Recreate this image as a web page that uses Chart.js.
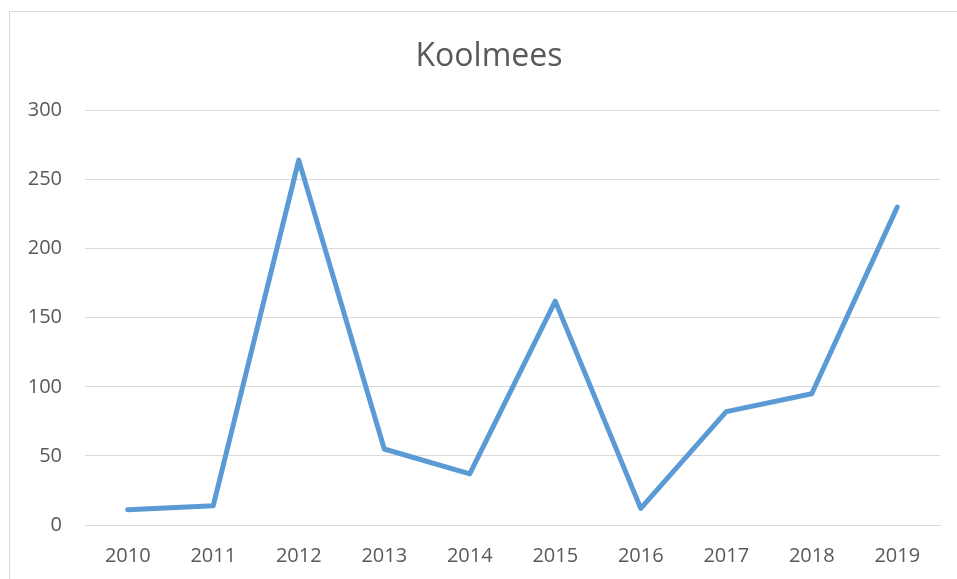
<!DOCTYPE html>
<html>
<head>
<meta charset="utf-8">
<script src="https://cdn.jsdelivr.net/npm/chart.js@4"></script>
<style>
  html, body { margin: 0; padding: 0; background: #fff; }
  #wrap { position: relative; width: 957px; height: 579px; overflow: hidden; }
  #frame { position: absolute; left: 9px; top: 11px; width: 1000px; height: 1000px; border: 1px solid #d9d9d9; }
  #chart { position: absolute; left: 0; top: 0; }
</style>
</head>
<body>
<div id="wrap">
  <div id="frame"></div>
  <canvas id="chart" width="957" height="579"></canvas>
</div>
<script>
const years = ["2010", "2011", "2012", "2013", "2014", "2015", "2016", "2017", "2018", "2019"];
const koolmees = [11, 14, 264, 55, 37, 162, 12, 82, 95, 230];
const yTicks = [0, 50, 100, 150, 200, 250, 300];

const chartCanvas = document.getElementById("chart");
const textColor = "#595959";
const gridColor = "#d9d9d9";

// nudge the title box so the title sits a bit right of the canvas centre, like the reference
const titleOffset = {
  id: "titleOffset",
  afterLayout(chart) {
    if (chart.titleBlock) {
      chart.titleBlock.left += 38;
    }
  },
};

new Chart(chartCanvas, {
  type: "line",
  data: {
    labels: years,
    datasets: [
      {
        label: "Koolmees",
        data: koolmees,
        borderColor: "#5b9bd5",
        borderWidth: 5,
        borderCapStyle: "round",
        borderJoinStyle: "round",
        pointRadius: 0,
        tension: 0,
      },
    ],
  },
  options: {
    responsive: false,
    animation: false,
    layout: {
      padding: { left: 0, right: 17, top: 0, bottom: 0 },
    },
    scales: {
      x: {
        offset: true,
        grid: { display: false },
        border: { display: true, color: gridColor, width: 1 },
        ticks: {
          color: textColor,
          font: { family: "Open Sans", size: 20 },
          padding: 11,
          maxRotation: 0,
        },
        afterFit: (scale) => {
          scale.height = 54;
        },
      },
      y: {
        min: 0,
        max: 300,
        afterBuildTicks: (scale) => {
          scale.ticks = yTicks.map((v) => ({ value: v }));
        },
        grid: { color: gridColor, lineWidth: 1, drawTicks: false },
        border: { display: false },
        ticks: {
          color: textColor,
          font: { family: "Open Sans", size: 20 },
          padding: 23,
        },
        afterFit: (scale) => {
          scale.width = 85;
        },
      },
    },
    plugins: {
      legend: { display: false },
      tooltip: { enabled: false },
      title: {
        display: true,
        text: "Koolmees",
        color: textColor,
        font: { family: "Open Sans", size: 32, weight: "normal" },
        padding: { top: 37.5, bottom: 34.5 },
      },
    },
  },
  plugins: [titleOffset],
});
</script>
</body>
</html>
